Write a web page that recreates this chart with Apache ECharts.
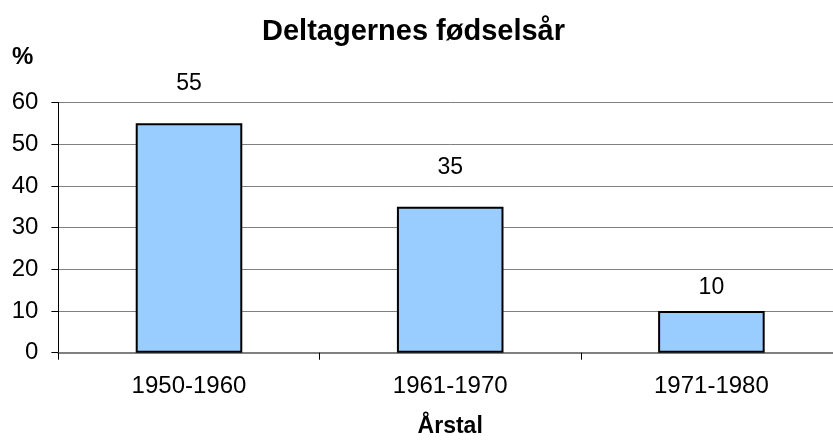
<!DOCTYPE html>
<html>
<head>
<meta charset="utf-8">
<script src="https://cdn.jsdelivr.net/npm/echarts@6/dist/echarts.min.js"></script>
<style>
  html, body { margin: 0; padding: 0; background: #fff; overflow: hidden; }
  #chart { width: 842px; height: 441px; }
</style>
</head>
<body>
<div id="chart"></div>
<script>
// data
const categories = ['1950-1960', '1961-1970', '1971-1980'];
const shares = [55, 35, 10];
const yTicks = [0, 10, 20, 30, 40, 50, 60];

// label gaps above the bars (Excel placed them unevenly)
const labelGaps = [28, 28, 12];

const font = '"Liberation Sans", Arial, sans-serif';
const chart = echarts.init(document.getElementById('chart'), null, { renderer: 'canvas' });

const option = {
  backgroundColor: '#fff',
  animation: false,
  textStyle: { fontFamily: font, color: '#000' },
  title: {
    text: 'Deltagernes fødselsår',
    left: 257,
    top: 12,
    textStyle: { fontFamily: font, fontSize: 29, fontWeight: 'bold', color: '#000' },
  },
  grid: {
    left: 58.4,
    right: 0,
    top: 102.5,
    bottom: 88.3,
    containLabel: false,
    outerBoundsMode: 'none',
  },
  xAxis: {
    type: 'category',
    data: categories,
    name: 'Årstal',
    nameLocation: 'middle',
    nameGap: 62,
    nameTextStyle: { fontFamily: font, fontSize: 23, fontWeight: 'bold', color: '#000' },
    axisLine: { show: true, lineStyle: { color: '#808080', width: 2 } },
    axisTick: { show: true, alignWithLabel: false, length: 7, lineStyle: { color: '#000', width: 1 } },
    axisLabel: { fontFamily: font, fontSize: 24, color: '#000', margin: 22 },
    splitLine: { show: false },
  },
  yAxis: {
    type: 'value',
    min: yTicks[0],
    max: yTicks[yTicks.length - 1],
    interval: yTicks[1] - yTicks[0],
    name: '%',
    nameLocation: 'end',
    nameGap: 33,
    nameTextStyle: { fontFamily: font, fontSize: 24, fontWeight: 'bold', color: '#000', align: 'right', padding: [0, 25, 0, 0] },
    axisLine: { show: true, lineStyle: { color: '#000', width: 1 } },
    axisTick: { show: true, length: 7, lineStyle: { color: '#000', width: 1 } },
    axisLabel: { fontFamily: font, fontSize: 24, color: '#000', margin: 20 },
    splitLine: { show: true, lineStyle: { color: '#808080', width: 1 } },
  },
  series: [
    {
      type: 'bar',
      barWidth: '40.8%',
      data: shares.map((v, i) => ({
        value: v,
        label: { distance: labelGaps[i] },
      })),
      itemStyle: { color: '#99CCFF', borderColor: '#000', borderWidth: 2 },
      label: {
        show: true,
        position: 'top',
        fontFamily: font,
        fontSize: 23,
        color: '#000',
      },
    },
  ],
};

chart.setOption(option);
</script>
</body>
</html>
